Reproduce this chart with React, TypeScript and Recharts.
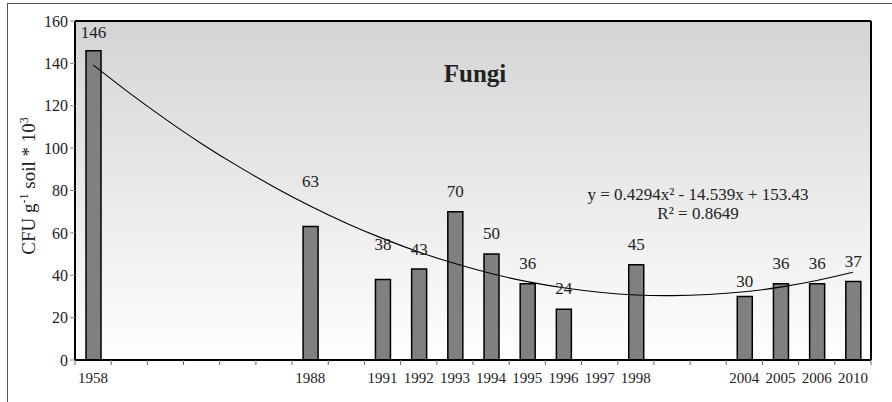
import { ComposedChart, Bar, Line, XAxis, YAxis, CartesianGrid, LabelList } from "recharts";

// 22 evenly spaced slots; empty strings are gaps on the axis
const SLOT_LABELS = ["1958", "", "", "", "", "", "1988", "", "1991", "1992", "1993", "1994", "1995", "1996", "1997", "1998", "", "", "2004", "2005", "2006", "2010"];
const FUNGI = [146, null, null, null, null, null, 63, null, 38, 43, 70, 50, 36, 24, null, 45, null, null, 30, 36, 36, 37];
// polynomial trend line at each slot
const TREND = [139.3, 126.1, 113.7, 102.1, 91.5, 81.7, 72.7, 64.6, 57.4, 51.0, 45.5, 40.8, 37.0, 34.1, 32.0, 30.7, 30.4, 30.9, 32.2, 34.4, 37.5, 41.4];
const Y_TICKS = [0, 20, 40, 60, 80, 100, 120, 140, 160];

const W = 892, H = 402;
const PLOT_L = 75, PLOT_R = 871, PLOT_T = 21, PLOT_B = 360;
const SLOT = (PLOT_R - PLOT_L) / SLOT_LABELS.length;
const FONT = "Liberation Serif";
const INK = "#222";

// some value labels sit higher to keep clear of the trend curve (keyed by year)
const LABEL_LIFT: Record<string, number> = { "1958": 13, "1988": 40, "1991": 29, "1992": 14, "2004": 9 };

const data = SLOT_LABELS.map((label, i) => ({ slot: i, label, fungi: FUNGI[i], trend: TREND[i] }));

function SlotTick(props: any) {
  const { x, y, payload, index } = props;
  const label = SLOT_LABELS[payload.value] ?? "";
  return (
    <g>
      <line x1={x - SLOT / 2} x2={x - SLOT / 2} y1={y} y2={y + 5} stroke="#666" />
      {index === SLOT_LABELS.length - 1 && <line x1={x + SLOT / 2} x2={x + SLOT / 2} y1={y} y2={y + 5} stroke="#666" />}
      <text x={x} y={y + 23} textAnchor="middle" fontSize={15} style={{ fontFamily: FONT }} fill={INK}>{label}</text>
    </g>
  );
}

function ValueLabel(props: any) {
  const { x, y, width, value } = props;
  if (value == null) return null;
  const cx = x + width / 2;
  const slot = Math.round((cx - PLOT_L) / SLOT - 0.5);
  const lift = LABEL_LIFT[SLOT_LABELS[slot]] ?? 15;
  return (
    <text x={cx} y={y - lift} textAnchor="middle" fontSize={17} style={{ fontFamily: FONT }} fill={INK}>{value}</text>
  );
}

export default function App() {
  return (
    <div style={{ position: "absolute", left: 0, top: 0, width: W, height: H, background: "#fff", fontFamily: FONT }}>
      <div style={{ position: "absolute", left: 7, top: 3, width: W, height: H, borderTop: "1px solid #555", borderLeft: "1px solid #555" }} />
      <ComposedChart width={W} height={H} data={data} style={{ fontFamily: FONT }} margin={{ top: PLOT_T, right: W - PLOT_R, left: PLOT_L - 40, bottom: H - PLOT_B - 30 }}>
        <defs>
          <linearGradient id="bg" x1="0" y1="0" x2="0" y2="1">
            <stop offset="0%" stopColor="#d4d4d4" />
            <stop offset="100%" stopColor="#ffffff" />
          </linearGradient>
        </defs>
        <CartesianGrid fill="url(#bg)" horizontalPoints={[PLOT_T]} verticalPoints={[PLOT_R]} stroke="#000" strokeWidth={2} />
        <XAxis dataKey="slot" type="category" interval={0} height={30} tickSize={0} tickMargin={0} tickLine={false} tick={<SlotTick />} axisLine={{ stroke: "#000", strokeWidth: 2 }} />
        <YAxis width={40} domain={[0, 160]} ticks={Y_TICKS} tickSize={5} tickMargin={2} tickLine={{ stroke: "#888" }} axisLine={{ stroke: "#000", strokeWidth: 2 }} tick={{ fontSize: 16, fill: INK, style: { fontFamily: FONT } }} />
        <Bar dataKey="fungi" barSize={15} fill="#808080" stroke="#000" strokeWidth={1.5} isAnimationActive={false}>
          <LabelList dataKey="fungi" content={<ValueLabel />} />
        </Bar>
        <Line dataKey="trend" type="natural" stroke="#000" strokeWidth={1.1} dot={false} activeDot={false} isAnimationActive={false} />
      </ComposedChart>
      <svg width={W} height={H} style={{ position: "absolute", left: 0, top: 0, pointerEvents: "none", fontFamily: FONT }}>
        <text x={475} y={82} textAnchor="middle" fontSize={25} fontWeight="bold" fill={INK}>Fungi</text>
        <text x={698} y={200} textAnchor="middle" fontSize={17} fill={INK}>y = 0.4294x² - 14.539x + 153.43</text>
        <text x={698} y={219} textAnchor="middle" fontSize={17} fill={INK}>R² = 0.8649</text>
        <text transform="translate(35,186) rotate(-90)" textAnchor="middle" fontSize={19} fill={INK}>
          CFU g<tspan dy={-7} fontSize={12}>-1</tspan><tspan dy={7}> soil * 10</tspan><tspan dy={-7} fontSize={12}>3</tspan>
        </text>
      </svg>
    </div>
  );
}
